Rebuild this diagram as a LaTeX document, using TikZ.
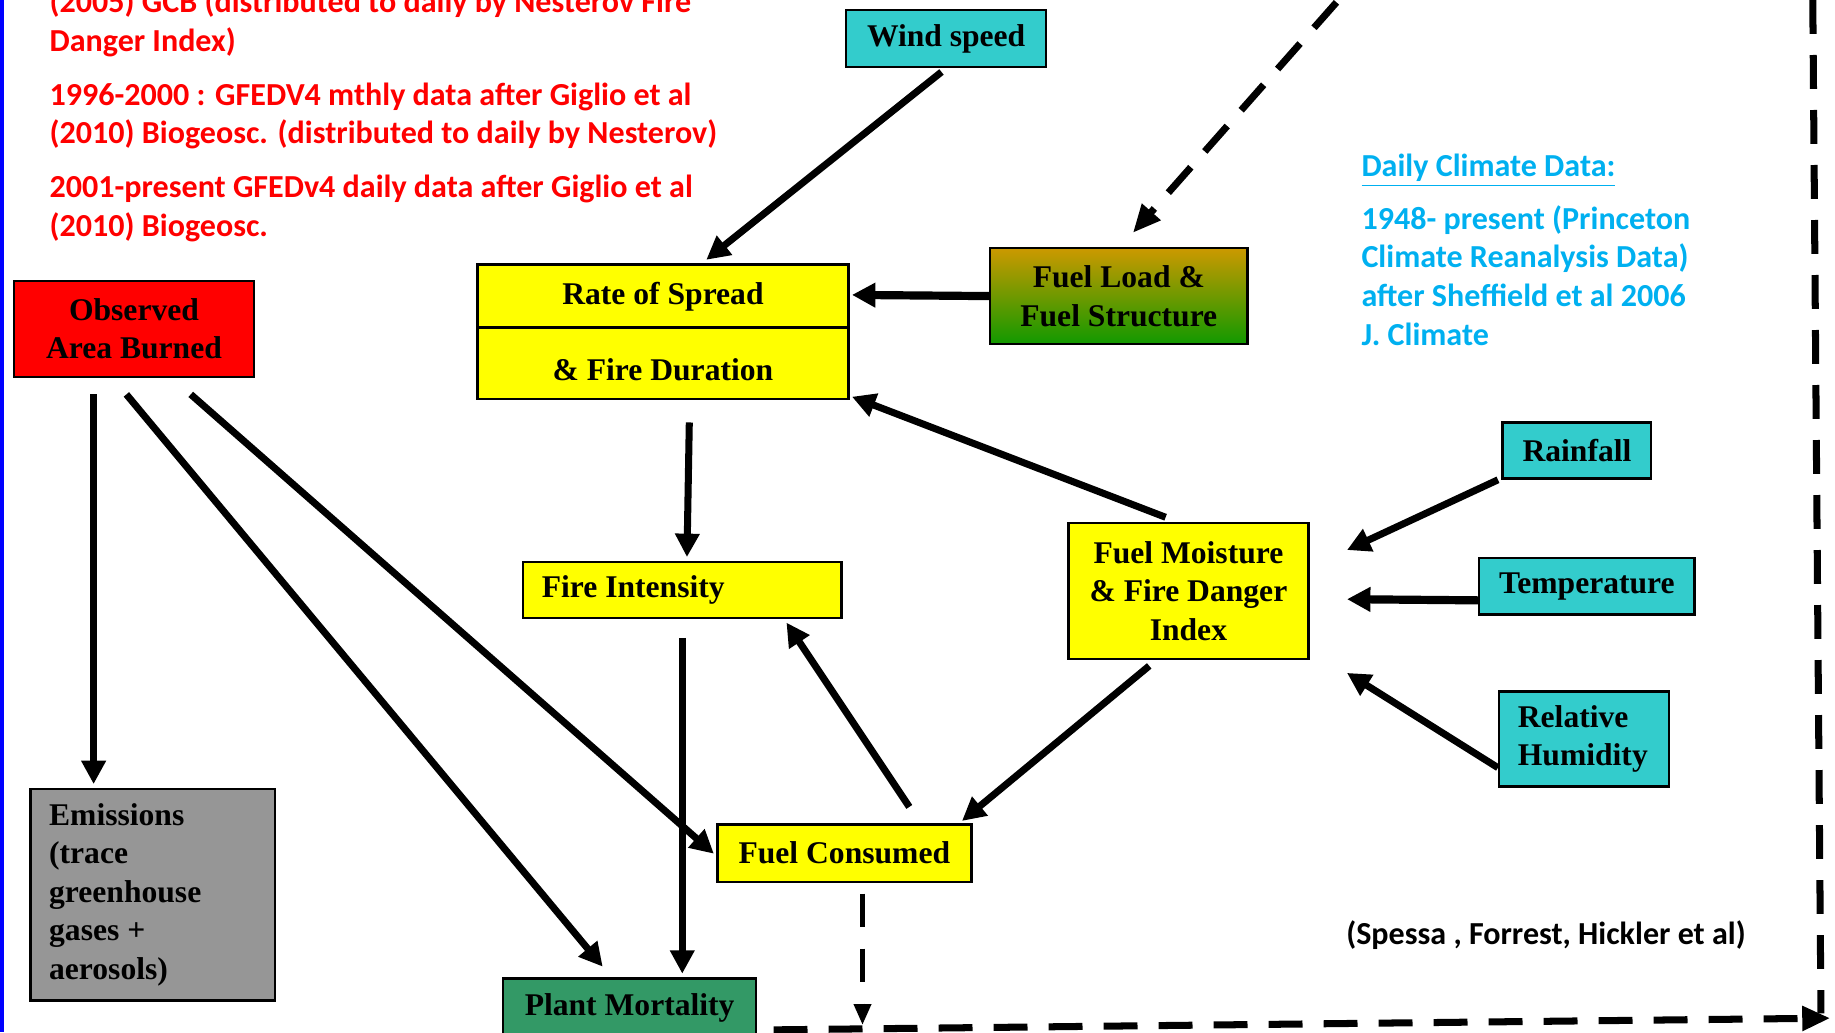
\documentclass[tikz,border=0pt]{standalone}
\usepackage{fontspec}
\usepackage{xcolor}
\setmainfont{Liberation Serif}
\newfontfamily\calfont{Carlito}
\usetikzlibrary{arrows.meta}
\usetikzlibrary{calc}

\begin{document}
\begin{tikzpicture}[x=0.5pt, y=-0.5pt,
		box/.style={draw, line width=1pt, inner sep=0pt, align=center, font=\bfseries\fontsize{13.5}{16.5}\selectfont},
		lbox/.style={box, inner xsep=8pt, align=flush left},
		arr/.style={line width=3pt, -{Triangle[length=10pt,width=10pt]}},
		thickarr/.style={line width=3.5pt, -{Triangle[length=10pt,width=10pt]}},
		dashlink/.style={line width=3pt, dash pattern=on 14.5pt off 9pt, -{Triangle[length=12pt,width=10pt]}},
		note/.style={inner sep=0pt, align=left, font=\calfont\bfseries\fontsize{13.7}{16.5}\selectfont}]
			\useasboundingbox (0,0) rectangle (1568,882);
			\definecolor{RED}{RGB}{255, 0, 0}
			\definecolor{SKY}{RGB}{0, 176, 240}
			\definecolor{TEAL}{RGB}{51, 204, 204}
			\definecolor{YEL}{RGB}{255, 255, 0}
			\definecolor{GREY}{RGB}{150, 150, 150}
			\definecolor{MORT}{RGB}{51, 153, 102}
			\definecolor{LOADTOP}{RGB}{204, 153, 0}
			\definecolor{LOADBOT}{RGB}{17, 153, 0}
			\fill[blue] (0,0) rectangle (3.5,882);
			% data sources (base = last line)
			\node[note, text=RED, anchor=base west] (burnt) at (42, 44) {(2005) GCB (distributed to daily by Nesterov Fire\\Danger Index)};
			\node[note, text=RED, anchor=base west] (gfedm) at (42, 123) {1996-2000 : GFEDV4 mthly data after Giglio et al\\(2010) Biogeosc. (distributed to daily by Nesterov)};
			\node[note, text=RED, anchor=base west] (gfedd) at (42, 202) {2001-present GFEDv4 daily data after Giglio et al\\(2010) Biogeosc.};
			\node[note, text=SKY, anchor=base west] (climhead) at (1163, 151) {\underline{Daily Climate Data:}};
			\node[note, text=SKY, anchor=base west] (clim) at (1163, 295) {1948- present (Princeton\\Climate Reanalysis Data)\\after Sheffield et al 2006\\J. Climate};
			\node[note, anchor=base west] (credit) at (1150, 807) {(Spessa , Forrest, Hickler et al)};
			% boxes
			\node[box, fill=TEAL, minimum width=85.5pt, minimum height=24.5pt] (wind) at (808.5, 33) {Wind speed};
			\node[box, fill=YEL, minimum width=158.5pt, minimum height=57.5pt] (ros) at (566.5, 283.5) {Rate of Spread\\[16pt]\& Fire Duration};
			\node[box, top color=LOADTOP, bottom color=LOADBOT, minimum width=110pt, minimum height=41pt] (load) at (956, 253) {Fuel Load \&\\Fuel Structure};
			\node[box, fill=RED, minimum width=102.5pt, minimum height=41pt] (obs) at (114.5, 281) {Observed\\Area Burned};
			\node[lbox, fill=YEL, text width=120pt, minimum height=24pt] (intens) at (583, 504) {Fire Intensity};
			\node[box, fill=YEL, minimum width=102.5pt, minimum height=58pt] (moist) at (1015.5, 505) {Fuel Moisture\\\& Fire Danger\\Index};
			\node[box, fill=TEAL, minimum width=63.5pt, minimum height=24pt] (rain) at (1347.5, 385) {Rainfall};
			\node[box, fill=TEAL, minimum width=92pt, minimum height=24pt] (temp) at (1356, 501) {Temperature};
			\node[lbox, fill=TEAL, text width=56.5pt, minimum height=40.5pt] (humid) at (1353.5, 631.5) {Relative\\Humidity};
			\node[box, fill=YEL, minimum width=108.5pt, minimum height=24.5pt] (cons) at (721.5, 729) {Fuel Consumed};
			\node[lbox, fill=GREY, text width=88.5pt, minimum height=90.5pt] (emis) at (130.5, 764.5) {Emissions\\(trace\\greenhouse\\gases +\\aerosols)};
			\node[box, fill=MORT, minimum width=108pt, minimum height=25pt] (mort) at (538, 861) {Plant Mortality};
			\draw[line width=1.5pt] ($(ros.north west)!0.47!(ros.south west)$) -- ($(ros.north east)!0.47!(ros.south east)$);
			% solid links
			\draw[arr] ($(wind.south)+(-4,3)$) to ($(ros.north)+(37,-3)$);
			\draw[thickarr] (load.west) to ($(ros.north east)+(2,27)$);
			\draw[arr] ($(moist.north)+(-19.5,-4)$) to ($(ros.south east)+(2,-3)$);
			\draw[arr] ($(ros.south)+(22.5,19)$) to ($(intens.north)+(4,-3)$);
			\draw[arr] ($(intens.south)+(0,16)$) to ($(mort.north)+(45,-3)$);
			\draw[arr] ($(cons.north)+(55.5,-14)$) to ($(intens.south)+(89,3)$);
			\draw[arr] ($(moist.south)+(-33.5,5)$) to ($(cons.north east)+(-9,-2)$);
			\draw[arr] ($(rain.south west)+(-3,0)$) to ($(moist.east)+(32,-35)$);
			\draw[thickarr] ($(temp.west)+(0,12)$) to ($(moist.east)+(32,7)$);
			\draw[arr] ($(humid.west)+(0,24.5)$) to ($(moist.east)+(32,70)$);
			\draw[arr] ($(obs.south)+(-34.5,14)$) to ($(emis.north)+(-50.5,-3)$);
			\draw[arr] ($(obs.south)+(-6.5,14)$) to ($(mort.north west)+(86,-9)$);
			\draw[arr] ($(obs.south)+(48.5,14)$) to ($(cons.west)+(-2,0.5)$);
			% dashed links
			\coordinate (dtop) at (1142, 2);
			\coordinate (drop) at (737, 876);
			\coordinate (corner) at (1564, 870);
			\coordinate (rtop) at (1549, 0);
			\coordinate (rbot) at (1556, 866);
			\draw[dashlink] (dtop) to ($(load.north)+(12,-12)$);
			\draw[dashlink, line width=2.2pt, -{Triangle[length=9pt,width=7pt]}] ($(cons.south)+(15.5,9)$) to (drop);
			\draw[dashlink] ($(mort.east)+(14,19)$) to (corner);
			\draw[dashlink, -] (rtop) to (rbot);
		\end{tikzpicture}
\end{document}
